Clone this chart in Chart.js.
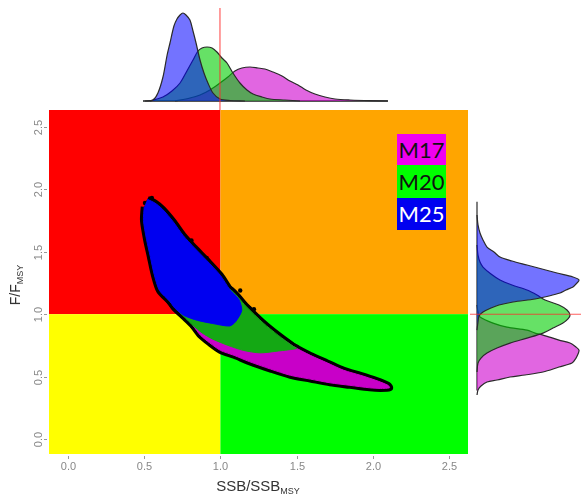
<!DOCTYPE html>
<html>
<head>
<meta charset="utf-8">
<script src="https://cdn.jsdelivr.net/npm/chart.js@4.4.1/dist/chart.umd.min.js"></script>
<style>
  body { margin: 0; background: #fff; width: 581px; height: 497px; position: relative; overflow: hidden; font-family: "Liberation Sans", Arial, sans-serif; }
  canvas { position: absolute; }
  #kobe { left: 0; top: 0; }
  #topDens { left: 143px; top: 8px; }
  #sideDens { left: 468px; top: 195px; }
  .axis-title { position: absolute; color: #333; font-size: 15px; white-space: nowrap; text-align: center; }
  .axis-title sub { font-size: 9px; vertical-align: -3px; }
  #xTitle { left: 198px; top: 477px; width: 120px; }
  #yTitle { left: -15px; top: 276px; width: 60px; height: 18px; line-height: 18px; font-size: 14px; transform: rotate(-90deg); }
  .key { position: absolute; left: 397px; width: 49px; font-family: Lato, "Open Sans", sans-serif; font-size: 22px; text-align: center; }
</style>
</head>
<body>
<canvas id="kobe" width="581" height="497"></canvas>
<canvas id="topDens" width="247" height="102"></canvas>
<canvas id="sideDens" width="113" height="200"></canvas>
<div class="axis-title" id="xTitle">SSB/SSB<sub>MSY</sub></div>
<div class="axis-title" id="yTitle">F/F<sub>MSY</sub></div>
<div class="key" style="top:134px; height:31px; line-height:31px; background:#f000f0; color:#111;">M17</div>
<div class="key" style="top:165px; height:33px; line-height:33px; background:#00ff00; color:#111;">M20</div>
<div class="key" style="top:198px; height:32px; line-height:32px; background:#0000f0; color:#fff;">M25</div>

<script>
  // axis ticks
  var xTicks = [0, 0.5, 1, 1.5, 2, 2.5];
  var yTicks = [0, 0.5, 1, 1.5, 2, 2.5];

  // point clouds, outlines [SSB, F]
  var m25Cloud = [[0.52,1.92],[0.57,1.89],[0.62,1.84],[0.69,1.74],[0.755,1.63],[0.83,1.53],[0.91,1.43],[1.0,1.31],[1.06,1.20],[1.12,1.12],[1.14,1.03],[1.10,0.94],[1.06,0.905],[0.95,0.925],[0.85,0.95],[0.76,0.99],[0.70,1.05],[0.67,1.10],[0.60,1.19],[0.565,1.32],[0.54,1.46],[0.515,1.60],[0.495,1.75],[0.50,1.86]];
  var m20Cloud = [[0.62,1.30],[0.80,1.25],[0.95,1.20],[1.06,1.20],[1.17,1.06],[1.28,0.93],[1.38,0.83],[1.48,0.74],[1.50,0.725],[1.38,0.705],[1.26,0.69],[1.15,0.71],[1.05,0.75],[0.95,0.80],[0.88,0.85],[0.82,0.91],[0.77,0.97],[0.735,1.01],[0.67,1.10],[0.62,1.18]];
  var m17Cloud = [[0.80,0.98],[0.95,0.88],[1.10,0.82],[1.30,0.80],[1.40,0.80],[1.48,0.74],[1.59,0.67],[1.70,0.61],[1.81,0.55],[1.92,0.51],[2.02,0.47],[2.10,0.43],[2.11,0.41],[2.05,0.405],[1.98,0.41],[1.85,0.43],[1.72,0.45],[1.59,0.48],[1.46,0.51],[1.33,0.56],[1.19,0.62],[1.09,0.67],[1.0,0.71],[0.93,0.77],[0.87,0.83],[0.82,0.91]];
  var strayPoints = [[0.505,1.89],[0.55,1.93],[0.50,1.78],[0.81,1.59],[0.91,1.45],[1.13,1.19],[1.19,1.05],[1.22,1.04]];

  // marginal density of SSB/SSBmsy (top)
  var ssbBlueX = [0.508,0.56,0.593,0.626,0.652,0.672,0.698,0.718,0.738,0.757,0.777,0.803,0.823,0.843,0.869,0.895,0.921,0.954,1.0,1.066,1.164];
  var ssbBlueD = [0,1,8,24,45,58,75,82,86,88,86,81,70,58,41,28,18,8,2,0.5,0];
  var ssbGreenX = [0.541,0.626,0.685,0.738,0.783,0.823,0.856,0.882,0.915,0.948,0.98,1.013,1.046,1.085,1.131,1.177,1.217,1.276,1.328,1.427,1.525];
  var ssbGreenD = [0,4,10,18,30,41,50,53,54,53,49,43,38,28,18,11,7,4,2,1,0];
  var ssbMagX = [0.705,0.803,0.869,0.934,1.0,1.052,1.098,1.144,1.197,1.249,1.295,1.348,1.407,1.459,1.512,1.564,1.623,1.689,1.755,1.853,1.984,2.102];
  var ssbMagD = [0,3,6,11,18,24,30,33,34,33,32,29,25,20,16,11,7,4,2,1,0.3,0];

  // marginal density of F/Fmsy (right)
  var fBlueY = [1.795,1.715,1.651,1.595,1.538,1.498,1.458,1.426,1.394,1.362,1.33,1.298,1.274,1.242,1.218,1.194,1.17,1.146,1.122,1.098,1.074,1.05,1.018,0.986,0.938,0.873];
  var fBlueD = [0,1,3,6,10,17,23,35,50,65,80,96,102,99,96,89,83,72,58,36,22,14,6,2,1,0];
  var fGreenY = [1.554,1.474,1.418,1.378,1.322,1.274,1.234,1.194,1.154,1.114,1.074,1.034,0.994,0.962,0.929,0.889,0.849,0.809,0.769,0.729,0.689,0.649,0.609,0.537];
  var fGreenD = [0,1,3,6,14,23,35,50,60,68,82,90,93,91,86,76,66,50,33,20,10,4,1,0];
  var fMagY = [1.074,1.018,0.978,0.929,0.897,0.873,0.849,0.833,0.793,0.769,0.737,0.713,0.681,0.649,0.609,0.577,0.537,0.513,0.497,0.473,0.457,0.425,0.393,0.353];
  var fMagD = [0,1,3,16,30,50,58,66,82,93,99,102,101,99,95,82,66,48,33,20,10,4,1,0];

  var toXY = (pts) => pts.map(p => ({ x: p[0], y: p[1] }));
  var zip = (xs, ys) => xs.map((v, i) => ({ x: v, y: ys[i] }));

  // background zones drawn from the scales
  var zones = {
    id: 'zones',
    beforeDatasetsDraw(chart) {
      const { ctx, chartArea: a, scales: { x, y } } = chart;
      const mx = x.getPixelForValue(1), my = y.getPixelForValue(1);
      ctx.save();
      ctx.fillStyle = '#ff0000'; ctx.fillRect(a.left, a.top, mx - a.left, my - a.top);
      ctx.fillStyle = '#ffa500'; ctx.fillRect(mx, a.top, a.right - mx, my - a.top);
      ctx.fillStyle = '#ffff00'; ctx.fillRect(a.left, my, mx - a.left, a.bottom - my);
      ctx.fillStyle = '#00ff00'; ctx.fillRect(mx, my, a.right - mx, a.bottom - my);
      ctx.restore();
    }
  };

  // R style axes: gray ticks, vertical y labels
  var rAxes = {
    id: 'rAxes',
    afterDraw(chart) {
      const { ctx, chartArea: a, scales: { x, y } } = chart;
      ctx.save();
      ctx.strokeStyle = '#999';
      ctx.fillStyle = '#888';
      ctx.lineWidth = 1;
      ctx.font = '11px "Liberation Sans", Arial';
      ctx.textAlign = 'center';
      ctx.textBaseline = 'middle';
      xTicks.forEach(v => {
        const px = Math.round(x.getPixelForValue(v)) + 0.5;
        ctx.beginPath(); ctx.moveTo(px, a.bottom + 2); ctx.lineTo(px, a.bottom + 5); ctx.stroke();
        ctx.fillText(v.toFixed(1), px, a.bottom + 13);
      });
      yTicks.forEach(v => {
        const py = Math.round(y.getPixelForValue(v)) + 0.5;
        ctx.beginPath(); ctx.moveTo(a.left - 5, py); ctx.lineTo(a.left - 2, py); ctx.stroke();
        ctx.save();
        ctx.translate(a.left - 10, py);
        ctx.rotate(-Math.PI / 2);
        ctx.fillText(v.toFixed(1), 0, 0);
        ctx.restore();
      });
      ctx.restore();
    }
  };

  function hull(pts, order) {
    return { data: toXY(pts), borderColor: '#000', backgroundColor: '#000', borderWidth: 7,
             fill: 'shape', pointRadius: 0, tension: 0.25, order: order };
  }
  function cloud(pts, color, order) {
    return { data: toXY(pts), borderColor: color, backgroundColor: color, borderWidth: 1,
             fill: 'shape', pointRadius: 0, tension: 0.25, order: order };
  }

  new Chart(document.getElementById('kobe'), {
    type: 'line',
    data: {
      datasets: [
        hull(m17Cloud, 12), hull(m20Cloud, 11), hull(m25Cloud, 10),
        { data: toXY(strayPoints), showLine: false, pointRadius: 2.2, pointBackgroundColor: '#000', pointBorderWidth: 0, order: 9 },
        cloud(m17Cloud, '#c800c8', 3),
        cloud(m20Cloud, '#14a814', 2),
        cloud(m25Cloud, '#0000f0', 1)
      ]
    },
    options: {
      responsive: false, animation: false, events: [],
      layout: { padding: { left: 49, top: 110, right: 113, bottom: 43 } },
      plugins: { legend: { display: false }, tooltip: { enabled: false } },
      scales: {
        x: { type: 'linear', min: -0.125, max: 2.625, display: false },
        y: { type: 'linear', min: -0.12, max: 2.635, display: false }
      }
    },
    plugins: [zones, rAxes]
  });

  function dens(data, color, order) {
    return { data: data, borderColor: '#2a2a2a', backgroundColor: color, borderWidth: 1.2,
             fill: 'shape', pointRadius: 0, tension: 0.3, order: order };
  }

  new Chart(document.getElementById('topDens'), {
    type: 'line',
    data: {
      datasets: [
        dens(zip(ssbMagX, ssbMagD), 'rgba(205,0,205,0.6)', 3),
        dens(zip(ssbGreenX, ssbGreenD), 'rgba(0,205,0,0.6)', 2),
        dens(zip(ssbBlueX, ssbBlueD), 'rgba(0,0,255,0.55)', 1),
        { data: [{ x: 0.495, y: 0 }, { x: 2.102, y: 0 }], borderColor: '#555', borderWidth: 2, pointRadius: 0, order: 4 },
        { data: [{ x: 1, y: -9 }, { x: 1, y: 93 }], borderColor: 'rgba(255,40,40,0.75)', borderWidth: 1.2, pointRadius: 0, order: 0 }
      ]
    },
    options: {
      responsive: false, animation: false, events: [],
      layout: { padding: 0 },
      plugins: { legend: { display: false }, tooltip: { enabled: false } },
      scales: {
        x: { type: 'linear', min: 0.495, max: 2.1155, display: false },
        y: { type: 'linear', min: -9, max: 93, display: false }
      }
    }
  });

  new Chart(document.getElementById('sideDens'), {
    type: 'line',
    data: {
      datasets: [
        dens(zip(fMagD, fMagY), 'rgba(205,0,205,0.6)', 3),
        dens(zip(fGreenD, fGreenY), 'rgba(0,205,0,0.6)', 2),
        dens(zip(fBlueD, fBlueY), 'rgba(0,0,255,0.55)', 1),
        { data: [{ x: 0, y: 0.39 }, { x: 0, y: 1.90 }], borderColor: '#555', borderWidth: 1.5, pointRadius: 0, order: 4 },
        { data: [{ x: -7, y: 1 }, { x: 104, y: 1 }], borderColor: 'rgba(255,40,40,0.75)', borderWidth: 1.2, pointRadius: 0, order: 0 }
      ]
    },
    options: {
      responsive: false, animation: false, events: [],
      layout: { padding: 0 },
      plugins: { legend: { display: false }, tooltip: { enabled: false } },
      scales: {
        x: { type: 'linear', min: -9, max: 104, display: false },
        y: { type: 'linear', min: 0.353, max: 1.955, display: false }
      }
    }
  });
</script>
</body>
</html>
